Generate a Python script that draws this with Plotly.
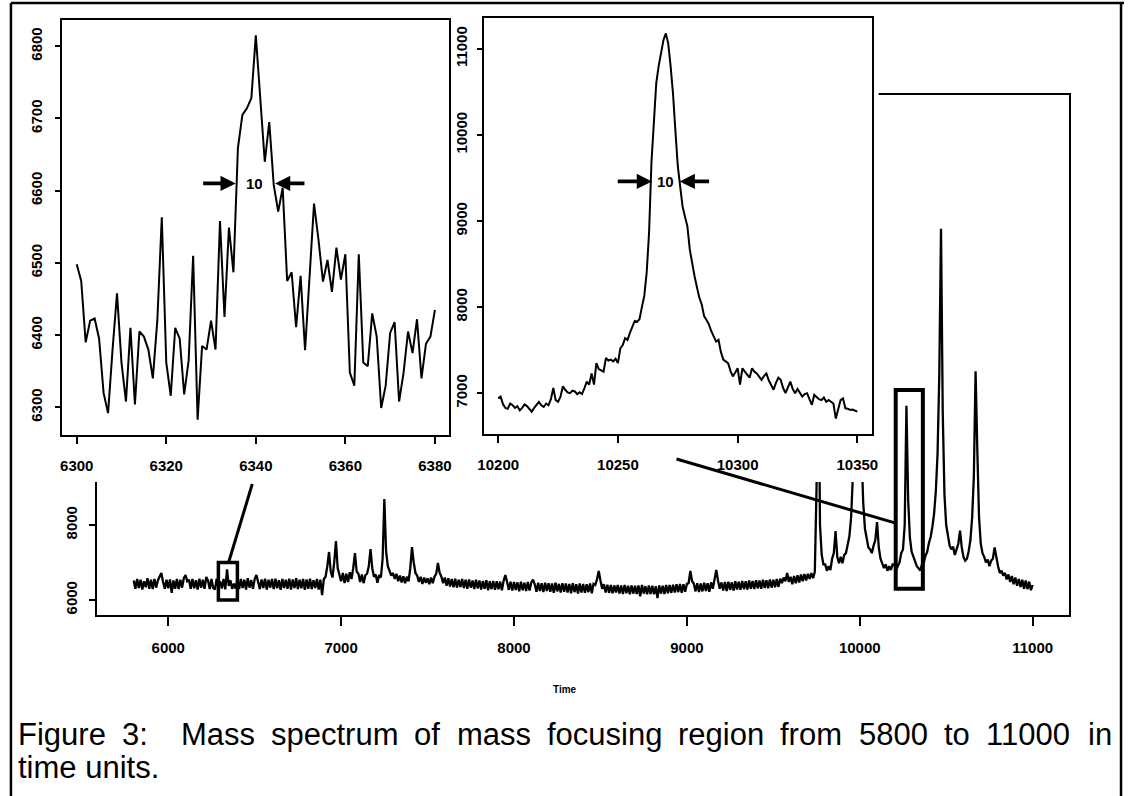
import plotly.graph_objects as go

W, H = 1130, 796

# ---------------- data ----------------
main_time = list(range(5800, 11001, 10))
main_values = [
    6520, 6300, 6560, 6320, 6540, 6280, 6500, 6340, 6580, 6300,   # 5800
    6540, 6290, 6560, 6330, 6520, 6600, 6720, 6480, 6300, 6540,   # 5900
    6310, 6550, 6190, 6520, 6300, 6560, 6290, 6540, 6330, 6580,   # 6000
    6667, 6500, 6540, 6300, 6560, 6310, 6530, 6280, 6570, 6330,   # 6100
    6540, 6300, 6613, 6520, 6290, 6560, 6320, 6280, 6570, 6340,   # 6200
    6498, 6308, 6563, 6283, 6815, 6379, 6521, 6299, 6435, 6300,   # 6300
    6550, 6290, 6560, 6320, 6540, 6280, 6580, 6330, 6530, 6300,   # 6400
    6560, 6667, 6500, 6290, 6550, 6320, 6570, 6280, 6540, 6330,   # 6500
    6560, 6290, 6570, 6310, 6530, 6270, 6560, 6320, 6540, 6300,   # 6600
    6570, 6280, 6550, 6320, 6580, 6290, 6540, 6310, 6560, 6270,   # 6700
    6550, 6300, 6570, 6290, 6530, 6320, 6560, 6280, 6540, 6130,   # 6800
    6560, 6620, 6900, 7280, 6750, 6600, 7000, 7573, 6850, 6650,   # 6900
    6500, 6720, 6450, 6700, 6480, 6740, 6560, 6850, 7253, 6760,   # 7000
    6700, 6480, 6680, 6450, 6660, 6700, 6900, 7360, 6850, 6620,   # 7100
    6680, 6460, 6670, 6600, 7100, 8693, 7300, 6900, 6760, 6650,   # 7200
    6720, 6560, 6700, 6500, 6650, 6470, 6630, 6450, 6620, 6500,   # 7300
    6850, 7413, 7000, 6720, 6650, 6480, 6620, 6430, 6600, 6460,   # 7400
    6580, 6420, 6600, 6450, 6620, 6700, 6987, 6720, 6620, 6450,   # 7500
    6600, 6380, 6580, 6360, 6560, 6340, 6570, 6330, 6540, 6350,   # 7600
    6560, 6320, 6540, 6300, 6550, 6330, 6520, 6290, 6540, 6310,   # 7700
    6520, 6280, 6510, 6300, 6530, 6260, 6500, 6290, 6510, 6270,   # 7800
    6500, 6290, 6490, 6260, 6510, 6667, 6480, 6270, 6490, 6250,   # 7900
    6480, 6270, 6470, 6230, 6490, 6260, 6460, 6240, 6480, 6250,   # 8000
    6470, 6540, 6420, 6220, 6460, 6240, 6450, 6210, 6460, 6240,   # 8100
    6450, 6220, 6440, 6190, 6460, 6230, 6430, 6200, 6450, 6220,   # 8200
    6440, 6200, 6430, 6180, 6450, 6210, 6420, 6170, 6440, 6200,   # 8300
    6430, 6190, 6420, 6210, 6440, 6180, 6430, 6400, 6550, 6773,   # 8400
    6520, 6300, 6420, 6200, 6410, 6190, 6400, 6180, 6390, 6200,   # 8500
    6400, 6170, 6390, 6160, 6400, 6180, 6380, 6150, 6390, 6170,   # 8600
    6380, 6160, 6390, 6100, 6400, 6170, 6370, 6150, 6390, 6160,   # 8700
    6380, 6150, 6370, 6050, 6390, 6170, 6380, 6160, 6400, 6180,   # 8800
    6400, 6190, 6410, 6200, 6420, 6210, 6430, 6190, 6420, 6220,   # 8900
    6430, 6450, 6773, 6500, 6440, 6230, 6450, 6210, 6440, 6230,   # 9000
    6460, 6240, 6450, 6220, 6470, 6300, 6550, 6800, 6520, 6300,   # 9100
    6470, 6250, 6480, 6240, 6490, 6270, 6470, 6250, 6500, 6280,   # 9200
    6490, 6270, 6510, 6290, 6500, 6280, 6520, 6300, 6510, 6290,   # 9300
    6530, 6310, 6520, 6300, 6540, 6320, 6530, 6310, 6550, 6330,   # 9400
    6540, 6340, 6560, 6350, 6570, 6450, 6600, 6500, 6720, 6480,   # 9500
    6620, 6420, 6640, 6450, 6660, 6470, 6680, 6500, 6690, 6520,   # 9600
    6700, 6560, 6720, 6580, 6750, 9000, 13500, 8000, 7200, 6950,  # 9700
    6950, 6780, 6900, 6800, 7100, 7250, 7840, 7150, 6980, 7150,   # 9800
    6980, 7200, 7250, 7450, 7700, 8200, 9300, 12500, 18900, 11500,  # 9900
    14000, 10000, 8600, 7900, 7600, 7400, 7350, 7250, 7450, 7600,   # 10000
    8080, 7400, 7100, 6950, 6850, 6950, 6780, 6900, 6800, 6950,   # 10100
    6940, 6800, 6900, 7000, 7250, 7350, 8000, 11180, 8670, 7660,  # 10200
    7290, 7155, 7000, 6900, 6850, 6785, 6950, 6980, 7180, 7280,   # 10300
    7520, 7680, 7950, 8300, 8900, 9900, 12000, 15900, 11000, 8800,  # 10400
    8000, 7700, 7450, 7350, 7420, 7200, 7350, 7500, 7850, 7400,   # 10500
    7150, 7050, 7100, 7300, 7600, 8200, 9300, 12100, 10000, 8200,  # 10600
    7500, 7250, 7150, 7000, 7080, 6900, 7050, 7100, 7400, 7100,   # 10700
    6900, 6720, 6780, 6650, 6720, 6550, 6680, 6480, 6640, 6420,   # 10800
    6600, 6380, 6560, 6350, 6540, 6300, 6520, 6290, 6490, 6260,   # 10900
    6400,                                                         # 11000
]

left_time = list(range(6300, 6381))
left_values = [
    6498, 6475, 6390, 6420, 6423, 6395, 6320, 6292, 6380, 6458,   # 6300
    6362, 6308, 6410, 6304, 6405, 6398, 6380, 6340, 6420, 6563,   # 6310
    6362, 6316, 6410, 6395, 6318, 6365, 6510, 6283, 6385, 6380,   # 6320
    6420, 6380, 6558, 6425, 6549, 6487, 6659, 6705, 6714, 6728,   # 6330
    6815, 6732, 6640, 6695, 6608, 6571, 6604, 6475, 6487, 6411,   # 6340
    6482, 6379, 6475, 6582, 6532, 6474, 6504, 6460, 6521, 6477,   # 6350
    6512, 6348, 6330, 6512, 6362, 6357, 6430, 6398, 6299, 6330,   # 6360
    6403, 6418, 6308, 6348, 6405, 6375, 6422, 6340, 6388, 6398,   # 6370
    6435,                                                         # 6380
]

right_time = list(range(10200, 10351))
right_values = [
    6940, 6960, 6870, 6830, 6820, 6880, 6860, 6830, 6850, 6800,   # 10200
    6830, 6870, 6850, 6810, 6785, 6830, 6870, 6900, 6860, 6840,   # 10210
    6880, 6860, 6930, 7060, 6920, 6900, 6960, 7080, 7040, 7010,   # 10220
    7000, 7030, 7020, 6990, 7010, 6990, 7060, 7135, 7100, 7230,   # 10230
    7100, 7350, 7280, 7260, 7250, 7410, 7380, 7390, 7370, 7400,   # 10240
    7350, 7520, 7560, 7640, 7620, 7700, 7760, 7840, 7830, 7860,   # 10250
    8000, 8130, 8400, 8865, 9680, 10200, 10600, 10800, 10950, 11100,  # 10260
    11180, 11065, 10800, 10480, 10050, 9640, 9400, 9170, 9050, 8940,  # 10270
    8670, 8500, 8360, 8230, 8110, 8030, 7895, 7850, 7800, 7720,   # 10280
    7660, 7600, 7620, 7480, 7390, 7370, 7350, 7260, 7195, 7240,   # 10290
    7290, 7100, 7290, 7250, 7215, 7180, 7290, 7250, 7230, 7190,   # 10300
    7155, 7200, 7230, 7150, 7100, 7040, 7120, 7180, 7155, 7060,   # 10310
    7000, 7080, 7135, 7050, 7000, 7050, 7010, 6960, 6990, 7000,   # 10320
    6930, 6865, 6980, 6950, 6930, 6920, 6950, 6900, 6920, 6900,   # 10330
    6880, 6705, 6800, 6920, 6940, 6825, 6820, 6805, 6810, 6800,   # 10340
    6785,                                                         # 10350
]

main_xticks = [6000, 7000, 8000, 9000, 10000, 11000]
main_yticks = [6000, 8000]
left_xticks = [6300, 6320, 6340, 6360, 6380]
left_yticks = [6300, 6400, 6500, 6600, 6700, 6800]
right_xticks = [10200, 10250, 10300, 10350]
right_yticks = [7000, 8000, 9000, 10000, 11000]

caption_line1 = ["Figure", "3:", "Mass", "spectrum", "of", "mass", "focusing",
                 "region", "from", "5800", "to", "11000", "in"]
caption_line2 = "time units."
x_title = "Time"
fwhm_label = "10"

# ---------------- helpers ----------------
def px(x):
    return x / W

def py(y):
    return 1 - y / H

SANS = "Liberation Sans, Arial"
TICKFONT = dict(family=SANS, size=15, color="black", weight="bold")

fig = go.Figure()

# main spectrum
fig.add_trace(go.Scatter(x=main_time, y=main_values, mode="lines",
                         line=dict(color="black", width=2.3),
                         xaxis="x", yaxis="y", showlegend=False, hoverinfo="skip"))
# cover subplot (white area behind the insets)
fig.add_trace(go.Scatter(x=[None], y=[None], mode="lines", xaxis="x2", yaxis="y2",
                         showlegend=False, hoverinfo="skip"))
# left inset
fig.add_trace(go.Scatter(x=left_time, y=left_values, mode="lines",
                         line=dict(color="black", width=2.0),
                         xaxis="x3", yaxis="y3", showlegend=False, hoverinfo="skip"))
# right inset
fig.add_trace(go.Scatter(x=right_time, y=right_values, mode="lines",
                         line=dict(color="black", width=2.0),
                         xaxis="x4", yaxis="y4", showlegend=False, hoverinfo="skip"))

def axis_common(ticks_vals, **kw):
    d = dict(showline=True, linecolor="black", linewidth=1.6, mirror=True,
             ticks="outside", tickcolor="black", tickwidth=1.6, ticklen=7,
             showgrid=False, zeroline=False, tickfont=TICKFONT, fixedrange=True,
             tickmode="array", tickvals=ticks_vals, ticktext=[str(v) for v in ticks_vals])
    d.update(kw)
    return d

fig.update_layout(
    autosize=True,
    margin=dict(l=0, r=0, t=0, b=0),
    paper_bgcolor="white", plot_bgcolor="white",
    showlegend=False,
    xaxis=axis_common(main_xticks, domain=[px(92), px(1074)], range=[5588, 11208],
                      anchor="y", ticklen=9, ticklabelstandoff=9),
    yaxis=axis_common(main_yticks, domain=[py(615), py(95)], range=[5600, 19467],
                      anchor="x", tickangle=-90, ticklen=6, ticklabelstandoff=6),
    xaxis2=dict(domain=[0, px(882)], range=[0, 1], visible=False, anchor="y2",
                fixedrange=True),
    yaxis2=dict(domain=[py(482), 1], range=[0, 1], visible=False, anchor="x2",
                fixedrange=True),
    xaxis3=axis_common(left_xticks, domain=[px(57), px(448)], range=[6296.8, 6383.2],
                       anchor="y3", ticklabelstandoff=9),
    yaxis3=axis_common(left_yticks, domain=[py(435), py(20)], range=[6261.7, 6836.3],
                       anchor="x3", tickangle=-90, ticklen=6, ticklabelstandoff=7),
    xaxis4=axis_common(right_xticks, domain=[px(483), px(875)], range=[10194, 10356],
                       anchor="y4", ticklabelstandoff=9),
    yaxis4=axis_common(right_yticks, domain=[py(434), py(18)], range=[6526, 11359],
                       anchor="x4", tickangle=-90, ticklen=5, ticklabelstandoff=4),
)

shapes = []
# zoom boxes on the main spectrum
shapes.append(dict(type="rect", xref="x", yref="y", x0=6290, x1=6400, y0=6000, y1=7000,
                   line=dict(color="black", width=3.5), layer="above"))
shapes.append(dict(type="rect", xref="x", yref="y", x0=10208, x1=10365, y0=6300, y1=11600,
                   line=dict(color="black", width=4), layer="above"))
# connector lines
shapes.append(dict(type="line", xref="x", yref="y", x0=6349, y0=7000, x1=6486, y1=9093,
                   line=dict(color="black", width=3), layer="above"))
shapes.append(dict(type="line", xref="x", yref="y", x0=10208, y0=8050, x1=8940, y1=9760,
                   line=dict(color="black", width=3), layer="above"))
# outer frame
shapes.append(dict(type="line", xref="paper", yref="paper", x0=px(5), x1=1, y0=py(3), y1=py(3),
                   line=dict(color="black", width=2.5), layer="above"))
shapes.append(dict(type="line", xref="paper", yref="paper", x0=px(5), x1=px(5), y0=py(3), y1=0,
                   line=dict(color="black", width=2.5), layer="above"))
shapes.append(dict(type="line", xref="paper", yref="paper", x0=px(1127), x1=px(1127), y0=py(3), y1=0,
                   line=dict(color="black", width=2.5), layer="above"))
fig.update_layout(shapes=shapes)

ann = []
# FWHM arrows
for (xr, yr, hx, tx, yv) in [("x3", "y3", 6335.5, 6327.9, 6610), ("x3", "y3", 6344.3, 6351.2, 6610),
                             ("x4", "y4", 10264.2, 10249.3, 9460), ("x4", "y4", 10275.8, 10288.7, 9460)]:
    ann.append(dict(xref=xr, yref=yr, axref=xr, ayref=yr, x=hx, y=yv, ax=tx, ay=yv,
                    text="", showarrow=True, arrowhead=2, arrowsize=0.8, arrowwidth=3.8,
                    arrowcolor="black", standoff=0, startstandoff=0))
lblfont = dict(family=SANS, size=15, color="black", weight="bold")
ann.append(dict(xref="x3", yref="y3", x=6339.6, y=6610, text=fwhm_label, showarrow=False,
                font=lblfont))
ann.append(dict(xref="x4", yref="y4", x=10270, y=9460, text=fwhm_label, showarrow=False,
                font=lblfont))
# x-axis title of main plot
ann.append(dict(xref="paper", yref="paper", x=px(565), y=py(697), text=x_title,
                showarrow=False, font=dict(family=SANS, size=10, color="black",
                                           weight="bold")))

# caption, line 1 justified between x=12 and x=1118
AW = {' ': 278, '0': 556, '1': 556, '3': 556, '5': 556, '8': 556, ':': 278, '.': 278,
      'F': 611, 'M': 833, 'a': 556, 'c': 500, 'e': 556, 'f': 278, 'g': 556, 'i': 222,
      'm': 833, 'n': 556, 'o': 556, 'p': 556, 'r': 333, 's': 500, 't': 278, 'u': 556}
CAP_SIZE = 31
def tw(s):
    return sum(AW[c] for c in s) * CAP_SIZE / 1000.0

left_edge, right_edge = 12, 1118
PAD = 2  # annotation inner padding
gap_units = [1] * (len(caption_line1) - 1)
gap_units[1] = 2
total_words = sum(tw(w) for w in caption_line1)
gap = (right_edge - left_edge - total_words) / sum(gap_units)
cx = left_edge
capfont = dict(family=SANS, size=CAP_SIZE, color="black")
for i, w in enumerate(caption_line1):
    ann.append(dict(xref="paper", yref="paper", x=px(cx - PAD), y=py(734), text=w,
                    showarrow=False, xanchor="left", yanchor="middle", font=capfont))
    cx += tw(w)
    if i < len(gap_units):
        cx += gap * gap_units[i]
ann.append(dict(xref="paper", yref="paper", x=px(left_edge - PAD), y=py(767), text=caption_line2,
                showarrow=False, xanchor="left", yanchor="middle", font=capfont))
fig.update_layout(annotations=ann)

# the graph div is pinned to the page's top-left corner, at the window size
fig.write_html("out.html",
               default_width="%dpx; position:absolute; left:0px; top:0px" % W,
               default_height="%dpx" % H)
